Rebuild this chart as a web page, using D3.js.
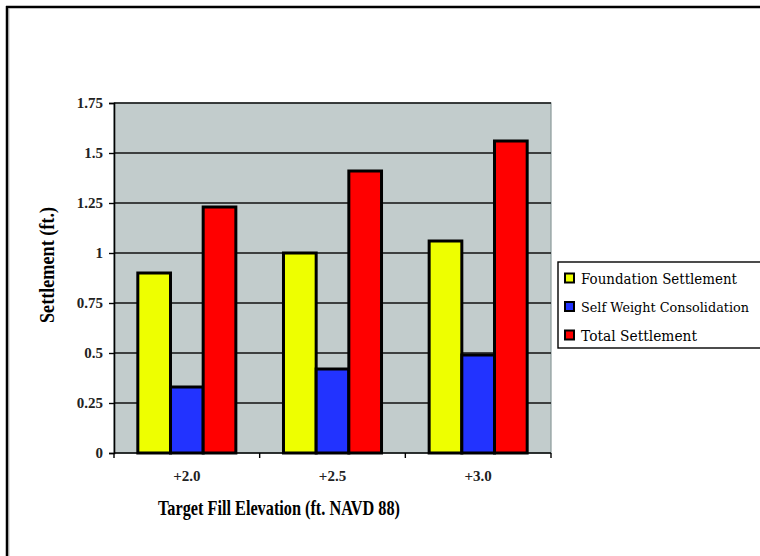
<!DOCTYPE html>
<html>
<head>
<meta charset="utf-8">
<script src="https://cdn.jsdelivr.net/npm/d3@7"></script>
<style>
  html, body { margin: 0; padding: 0; background: #ffffff; }
  svg { display: block; }
</style>
</head>
<body>
<svg id="chart" width="760" height="556" font-family="Liberation Serif, serif"></svg>
<script>
// ---- data ----
const categories = ["+2.0", "+2.5", "+3.0"];
const seriesNames = ["Foundation Settlement", "Self Weight Consolidation", "Total Settlement"];
const foundationSettlement = [0.90, 1.00, 1.06];
const selfWeightConsolidation = [0.33, 0.42, 0.49];
const totalSettlement = [1.23, 1.41, 1.56];
const yTicks = [0, 0.25, 0.5, 0.75, 1, 1.25, 1.5, 1.75];
const yTickLabels = ["0", "0.25", "0.5", "0.75", "1", "1.25", "1.5", "1.75"];
const seriesColors = ["#eeff00", "#2233ff", "#ff0000"];
const xTitle = "Target Fill Elevation (ft. NAVD 88)";
const yTitle = "Settlement (ft.)";

const seriesValues = [foundationSettlement, selfWeightConsolidation, totalSettlement];
const table = categories.map((c, i) => ({
  category: c,
  values: seriesNames.map((s, j) => ({ series: s, idx: j, value: seriesValues[j][i] }))
}));

const SERIF = "Liberation Serif, serif";
const svg = d3.select("#chart");

// outer frame (top and left visible)
svg.append("line").attr("x1", 6).attr("x2", 760).attr("y1", 7).attr("y2", 7)
  .attr("stroke", "#000").attr("stroke-width", 2.5);
svg.append("line").attr("x1", 7).attr("x2", 7).attr("y1", 6).attr("y2", 556)
  .attr("stroke", "#000").attr("stroke-width", 2.5);
svg.append("line").attr("x1", 8.8).attr("x2", 8.8).attr("y1", 8.3).attr("y2", 556)
  .attr("stroke", "#999").attr("stroke-width", 1);

// plot area
const plot = { left: 114, right: 551, top: 103, bottom: 453 };

const y = d3.scaleLinear().domain([0, 1.75]).range([plot.bottom, plot.top]);
const x0 = d3.scaleBand().domain(categories).range([plot.left, plot.right])
  .paddingInner(0.327).paddingOuter(0.1635);
const x1 = d3.scaleBand().domain(seriesNames).range([0, x0.bandwidth()]).padding(0);

// plot background
svg.append("rect")
  .attr("x", plot.left).attr("y", plot.top)
  .attr("width", plot.right - plot.left).attr("height", plot.bottom - plot.top)
  .attr("fill", "#c2cccc").attr("stroke", "#8a9a9a").attr("stroke-width", 1.2);

// gridlines
svg.append("g")
  .selectAll("line")
  .data(yTicks.filter(t => t > 0))
  .join("line")
  .attr("x1", plot.left).attr("x2", plot.right)
  .attr("y1", d => y(d)).attr("y2", d => y(d))
  .attr("stroke", "#111").attr("stroke-width", 1.4);

// bars
const groups = svg.append("g").selectAll("g")
  .data(table).join("g")
  .attr("transform", d => `translate(${x0(d.category)},0)`);
groups.selectAll("rect")
  .data(d => d.values)
  .join("rect")
  .attr("x", d => x1(d.series))
  .attr("width", x1.bandwidth())
  .attr("y", d => y(d.value))
  .attr("height", d => y(0) - y(d.value))
  .attr("fill", d => seriesColors[d.idx])
  .attr("stroke", "#000").attr("stroke-width", 3);

// y axis
const yAxis = d3.axisLeft(y).tickValues(yTicks)
  .tickFormat((d, i) => yTickLabels[i]).tickSize(5).tickPadding(6);
const gy = svg.append("g").attr("transform", `translate(${plot.left},0)`).call(yAxis);
gy.attr("font-family", SERIF).attr("font-size", 15).attr("font-weight", "bold");
gy.select(".domain").attr("stroke", "#000").attr("stroke-width", 1.6);
gy.selectAll(".tick line").attr("stroke", "#000").attr("stroke-width", 1.4);
gy.selectAll(".tick text").attr("fill", "#222");

// x axis: ticks at category boundaries
const xAxisG = svg.append("g");
xAxisG.append("line").attr("x1", plot.left).attr("x2", plot.right)
  .attr("y1", plot.bottom).attr("y2", plot.bottom)
  .attr("stroke", "#000").attr("stroke-width", 1.6);
const step = x0.step();
const boundaries = categories.map((c) => x0(c) - step * x0.paddingInner() / 2).concat([plot.right]);
xAxisG.selectAll("line.tk").data(boundaries).join("line").attr("class", "tk")
  .attr("x1", d => d).attr("x2", d => d)
  .attr("y1", plot.bottom).attr("y2", plot.bottom + 5)
  .attr("stroke", "#000").attr("stroke-width", 1.4);
xAxisG.selectAll("text").data(categories).join("text")
  .attr("x", d => x0(d) + x0.bandwidth() / 2)
  .attr("y", 481)
  .attr("text-anchor", "middle")
  .attr("font-family", SERIF)
  .attr("font-size", 15).attr("font-weight", "bold").attr("fill", "#222")
  .text(d => d);

// axis titles
svg.append("text")
  .attr("x", 279).attr("y", 515)
  .attr("text-anchor", "middle")
  .attr("font-family", SERIF)
  .attr("font-size", 22).attr("font-weight", "bold")
  .attr("textLength", 242).attr("lengthAdjust", "spacingAndGlyphs")
  .text(xTitle);
svg.append("text")
  .attr("transform", "translate(54,265) rotate(-90)")
  .attr("text-anchor", "middle")
  .attr("font-family", SERIF)
  .attr("font-size", 20).attr("font-weight", "bold")
  .attr("textLength", 116).attr("lengthAdjust", "spacingAndGlyphs")
  .text(yTitle);

// legend
const legend = svg.append("g");
legend.append("rect").attr("x", 558).attr("y", 262).attr("width", 220).attr("height", 86)
  .attr("fill", "#fff").attr("stroke", "#000").attr("stroke-width", 1.4);
const legendLens = [156, 168, 116];
const legendSizes = [14, 13, 14];
const li = legend.selectAll("g").data(seriesNames).join("g")
  .attr("transform", (d, i) => `translate(565,${278 + i * 28.5})`);
li.append("rect").attr("x", 0).attr("y", -4.5).attr("width", 9).attr("height", 9)
  .attr("fill", (d, i) => seriesColors[i]).attr("stroke", "#000").attr("stroke-width", 2);
li.append("text").attr("x", 16).attr("y", 5.5)
  .attr("font-family", "DejaVu Serif, serif")
  .attr("font-size", (d, i) => legendSizes[i]).attr("fill", "#000")
  .attr("textLength", (d, i) => legendLens[i]).attr("lengthAdjust", "spacingAndGlyphs")
  .text(d => d);
</script>
</body>
</html>
